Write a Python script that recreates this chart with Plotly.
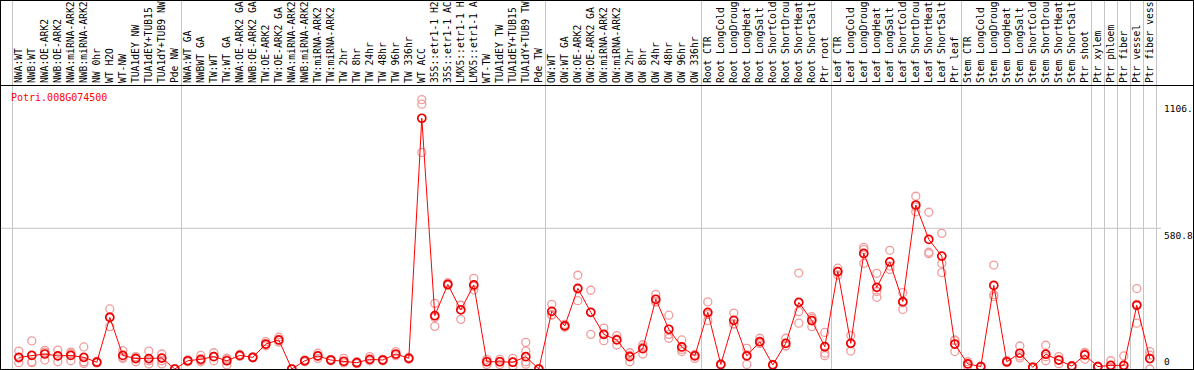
import plotly.graph_objects as go

# ---------------- data ----------------
group_sizes = [13, 28, 12, 10, 10, 10, 1, 1, 1, 1, 1]

labels = [
    "NWA:WT", "NWB:WT", "NWA:OE-ARK2", "NWB:OE-ARK2", "NWA:miRNA-ARK2", "NWB:miRNA-ARK2",
    "NW 0hr", "WT H2O", "WT-NW", "TUA1dEY NW", "TUA1dEY+TUB15", "TUA1dY+TUB9 NW", "Pde NW",
    "NWA:WT GA", "NWBWT GA", "TW:WT", "TW:WT GA", "NWA:OE-ARK2 GA", "NWB:OE-ARK2 GA",
    "TW:OE-ARK2", "TW:OE-ARK2 GA", "NWA:miRNA-ARK2", "NWB:miRNA-ARK2", "TW:miRNA-ARK2",
    "TW:miRNA-ARK2", "TW 2hr", "TW 8hr", "TW 24hr", "TW 48hr", "TW 96hr", "TW 336hr",
    "WT ACC", "35S::etr1-1 H2", "35S::etr1-1 AC", "LMX5::etr1-1 H", "LMX5::etr1-1 A",
    "WT-TW", "TUA1dEY TW", "TUA1dEY+TUB15", "TUA1dY+TUB9 TW", "Pde TW",
    "OW:WT", "OW:WT GA", "OW:OE-ARK2", "OW:OE-ARK2 GA", "OW:miRNA-ARK2", "OW:miRNA-ARK2",
    "OW 2hr", "OW 8hr", "OW 24hr", "OW 48hr", "OW 96hr", "OW 336hr",
    "Root CTR", "Root LongCold", "Root LongDroug", "Root LongHeat", "Root LongSalt",
    "Root ShortCold", "Root ShortDrou", "Root ShortHeat", "Root ShortSalt", "Ptr root",
    "Leaf CTR", "Leaf LongCold", "Leaf LongDroug", "Leaf LongHeat", "Leaf LongSalt",
    "Leaf ShortCold", "Leaf ShortDrou", "Leaf ShortHeat", "Leaf ShortSalt", "Ptr leaf",
    "Stem CTR", "Stem LongCold", "Stem LongDroug", "Stem LongHeat", "Stem LongSalt",
    "Stem ShortCold", "Stem ShortDrou", "Stem ShortHeat", "Stem ShortSalt", "Ptr shoot",
    "Ptr xylem", "Ptr phloem", "Ptr fiber", "Ptr vessel", "Ptr fiber vess",
]

means = [
    48, 56, 62, 54, 56, 48, 28, 213, 56, 43, 43, 45, 0,
    34, 40, 51, 34, 56, 48, 103, 120, 0, 34, 54, 37, 32, 26, 40, 37, 62, 44,
    1035, 220, 349, 244, 347, 30, 30, 28, 51, 0,
    238, 178, 333, 234, 143, 120, 51, 84, 288, 164, 91, 54,
    234, 19, 201, 54, 113, 17, 106, 275, 200, 92,
    402, 106, 477, 337, 442, 278, 677, 535, 466, 103,
    21, 10, 345, 30, 65, 7, 61, 37, 12, 58,
    10, 15, 15, 263, 43,
]

replicates = [
    [74, 26, 45], [116, 26, 30], [77, 37, 70], [78, 30, 54], [70, 34, 64], [91, 23, 30],
    [28, 25, 31], [248, 175, 216], [76, 44, 48], [51, 30, 48], [74, 21, 34], [62, 21, 34],
    [0, 0, 0],
    [34, 38, 30], [56, 30, 34], [67, 34, 52], [17, 45, 40], [56, 60, 52], [48, 50, 46],
    [113, 100, 96], [131, 118, 111], [0, 0, 0], [34, 30, 38], [65, 44, 53], [37, 40, 34],
    [44, 26, 26], [26, 22, 30], [51, 34, 35], [37, 34, 40], [72, 55, 59], [44, 48, 40],
    [1112, 1093, 894], [271, 176, 213], [356, 345, 346], [264, 205, 263], [374, 326, 341],
    [19, 40, 31], [19, 40, 31], [12, 44, 28], [110, 74, 30, 20], [0, 0, 0],
    [267, 222, 225], [178, 172, 184], [387, 282, 330], [325, 143, 234], [169, 117, 143],
    [138, 99, 123], [67, 30, 56], [62, 90, 100], [308, 280, 276], [222, 127, 143],
    [120, 72, 81], [44, 60, 58],
    [277, 200, 225], [19, 20, 18], [231, 185, 187], [85, 19, 58], [127, 105, 107],
    [17, 15, 19], [127, 95, 96], [396, 189, 237], [209, 175, 216], [151, 65, 55],
    [416, 388, 402], [138, 74, 106], [502, 436, 493], [395, 296, 320], [490, 411, 425],
    [315, 246, 273], [713, 649, 669], [647, 482, 476], [560, 436, 398], [120, 72, 117],
    [21, 12, 30], [10, 8, 12], [429, 299, 307], [30, 26, 34], [95, 46, 54],
    [7, 5, 9], [98, 34, 51], [51, 22, 38], [12, 15, 9], [65, 40, 69],
    [10, 8, 12], [34, 5, 6], [54, 0, 0], [332, 189, 268], [72, 0, 57],
]

gene_name = "Potri.008G074500"
y_tick_values = [1106, 580.8, 0]
y_tick_text = ["1106.", "580.8", "0"]

# ---------------- derived ----------------
idx = list(range(len(labels)))
rep_x, rep_y = [], []
for i, reps in enumerate(replicates):
    for v in reps:
        rep_x.append(i)
        rep_y.append(v)

bounds = []
acc = 0
bounds.append(acc - 0.5)
for g in group_sizes:
    acc += g
    bounds.append(acc - 0.5)

W, H = 1194, 370
L_M, R_M, T_M, B_M = 1, 1, 1, 1
px0 = 18.8          # pixel of first category
step = 13.0         # pixels per category
xr = [(L_M - px0) / step, (W - R_M - px0) / step]
zero_px = H - B_M
scale = (zero_px - 228.3) / 580.8
yr = [0, (zero_px - T_M) / scale]
header_px = 85
header_paper = (zero_px - header_px) / (zero_px - T_M)

MONO = "DejaVu Sans Mono"

fig = go.Figure()
fig.add_trace(go.Scatter(x=[], y=[], xaxis="x", yaxis="y", showlegend=False))
fig.add_trace(go.Scatter(
    x=rep_x, y=rep_y, mode="markers", xaxis="x2", yaxis="y",
    marker=dict(symbol="circle-open", size=8, color="#f09c9c", line=dict(width=1.3)),
    showlegend=False, hoverinfo="skip"))
fig.add_trace(go.Scatter(
    x=idx, y=means, mode="lines+markers", xaxis="x3", yaxis="y",
    line=dict(color="#ff0000", width=1),
    marker=dict(symbol="circle-open", size=8, color="#ee0000", line=dict(width=1.7)),
    showlegend=False))

fig.update_layout(
    width=W, height=H,
    margin=dict(l=L_M, r=R_M, t=T_M, b=B_M, pad=0),
    paper_bgcolor="white", plot_bgcolor="white",
    xaxis=dict(range=xr, showgrid=False, zeroline=False, showticklabels=False, ticks="",
               showline=True, mirror=True, linecolor="black", linewidth=1, fixedrange=True),
    xaxis2=dict(overlaying="x", matches="x", anchor="y", tickmode="array", tickvals=bounds,
                showgrid=True, gridcolor="#c4c4c4", gridwidth=1, showticklabels=False,
                ticks="", zeroline=False, showline=False),
    xaxis3=dict(overlaying="x", matches="x", anchor="free", position=header_paper, side="top",
                tickmode="array", tickvals=idx, ticktext=labels, tickangle=-90,
                tickfont=dict(family=MONO, size=9.7, color="black"), ticks="",
                showgrid=False, zeroline=False, showline=True, linecolor="black", linewidth=1),
    yaxis=dict(range=yr, showgrid=False, zeroline=False, showticklabels=False, ticks="",
               showline=True, mirror=True, linecolor="black", linewidth=1, fixedrange=True),
    shapes=[dict(type="line", xref="x", yref="y", x0=xr[0], x1=(1161 - px0) / step,
                 y0=580.8, y1=580.8, line=dict(color="#c4c4c4", width=1), layer="below")],
)

fig.add_annotation(text=gene_name, xref="paper", yref="paper",
                   x=(9 - L_M) / (W - L_M - R_M), y=(zero_px - 97) / (zero_px - T_M),
                   xanchor="left", yanchor="middle", showarrow=False,
                   font=dict(family=MONO, size=10, color="#ff0000"))
for v, t in zip(y_tick_values, y_tick_text):
    fig.add_annotation(text=t, xref="paper", yref="y",
                       x=(1162 - L_M) / (W - L_M - R_M), y=v,
                       xanchor="left", yanchor=("bottom" if v == 0 else "top"),
                       showarrow=False, font=dict(family=MONO, size=9.5, color="black"))

fig.write_html(
    "out.html",
    config={"displayModeBar": False},
    post_script="document.body.style.margin='0';document.body.style.padding='0';"
                "document.body.style.overflow='hidden';",
)
